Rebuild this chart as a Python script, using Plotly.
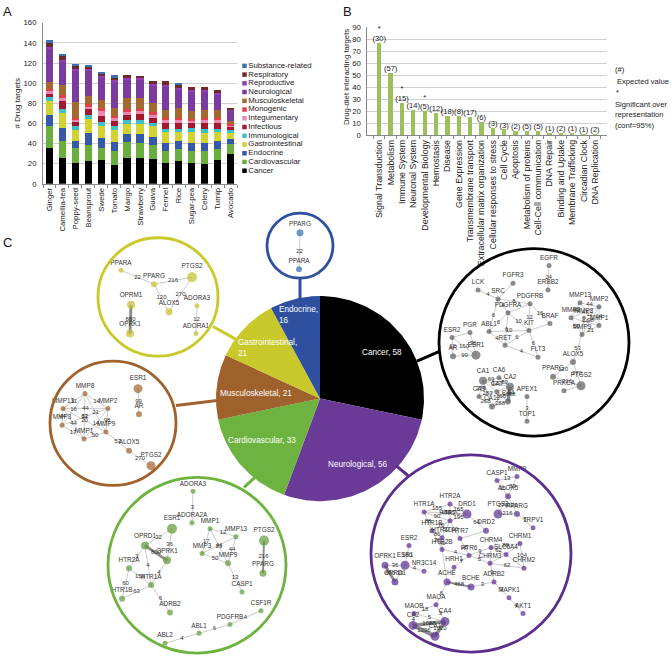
import math
import plotly.graph_objects as go

FONT = "Liberation Sans, Arial, sans-serif"

# ---------------- Panel A data ----------------
foods = ["Ginger", "Camellia-tea", "Poppy-seed", "Beansprout", "Swede", "Tomato", "Mango",
         "Strawberry", "Guava", "Fennel", "Rice", "Sugar-pea", "Celery", "Turnip", "Avocado"]
disease_classes = ["Cancer", "Cardiovascular", "Endocrine", "Gastrointestinal", "Immunological",
                   "Infectious", "Integumentary", "Monogenic", "Musculoskeletal", "Neurological",
                   "Reproductive", "Respiratory", "Substance-related"]
cancer = [36, 26, 21, 23, 24, 19, 26, 26, 25, 21, 23, 21, 20, 24, 30]
cardiovascular = [21, 17, 15, 16, 12, 14, 16, 15, 14, 12, 12, 12, 13, 11, 10]
endocrine = [11, 12, 7, 11, 10, 9, 7, 8, 8, 8, 8, 8, 8, 8, 5]
gastrointestinal = [14, 15, 10, 14, 11, 11, 10, 10, 10, 10, 8, 10, 9, 8, 5]
immunological = [4, 4, 4, 4, 4, 4, 4, 4, 3, 3, 3, 4, 4, 3, 3]
infectious = [3, 8, 4, 6, 6, 5, 5, 6, 5, 6, 6, 5, 6, 6, 3]
integumentary = [3, 3, 2, 2, 5, 3, 3, 3, 3, 3, 3, 2, 3, 3, 2]
monogenic = [2, 3, 2, 3, 3, 2, 3, 2, 3, 2, 2, 2, 2, 2, 1]
musculoskeletal = [7, 10, 16, 8, 8, 8, 11, 11, 9, 8, 10, 8, 8, 8, 3]
neurological = [34, 24, 31, 26, 23, 27, 19, 19, 18, 24, 19, 20, 19, 16, 11]
reproductive = [1, 1, 2, 1, 1, 1, 1, 1, 1, 1, 1, 1, 1, 1, 1]
respiratory = [4, 5, 3, 3, 3, 2, 3, 2, 3, 4, 4, 3, 3, 3, 1]
substance_related = [3, 1, 2, 1, 1, 3, 0, 0, 0, 0, 1, 0, 0, 0, 0]
series_A = [cancer, cardiovascular, endocrine, gastrointestinal, immunological, infectious,
            integumentary, monogenic, musculoskeletal, neurological, reproductive, respiratory,
            substance_related]
colors_A = ["#000000", "#6aae3e", "#3558a8", "#d2d230", "#3fbfc6", "#9e1a2c", "#e78ab4",
            "#e43f4a", "#a4692f", "#7b3a9e", "#9340b0", "#6b2b2b", "#3f6fb5"]
yticks_A = [0, 20, 40, 60, 80, 100, 120, 140, 160]

# ---------------- Panel B data ----------------
pathways = ["Signal Transduction", "Metabolism", "Immune System", "Neuronal System",
            "Developmental Biology", "Hemostasis", "Disease", "Gene Expression",
            "Transmembrane transport", "Extracellular matrix organization",
            "Cellular responses to stress", "Cell Cycle", "Apoptosis", "Metabolism of proteins",
            "Cell-Cell communication", "DNA Repair", "Binding and Uptake", "Membrane Trafficking",
            "Circadian Clock", "DNA Replication"]
observed = [77, 52, 27, 21, 20, 19, 16, 16, 15, 11, 6, 5, 4, 4, 4, 2, 2, 2, 1, 1]
expected = [30, 57, 15, 14, 5, 12, 18, 8, 17, 6, 3, 3, 2, 5, 5, 1, 2, 1, 1, 2]
significant = [True, False, True, False, True] + [False] * 15
yticks_B = [0, 10, 20, 30, 40, 50, 60, 70, 80, 90]

# ---------------- Panel C data ----------------
pie_labels = ["Cancer", "Neurological", "Cardiovascular", "Musculoskeletal", "Gastrointestinal", "Endocrine"]
pie_values = [58, 56, 33, 21, 21, 16]
pie_colors = ["#000000", "#6a3a97", "#6db33f", "#a0622d", "#c9c92c", "#2f4f9f"]

# networks (node layout coordinates, pixel space)
endo_nodes = ["PPARG", "PPARA"]
endo_x = [300, 299]
endo_y = [232, 269]
endo_size = [7, 6]
endo_edges = [("PPARG", "PPARA", 22)]

gi_nodes = ["PPARA", "PPARG", "PTGS2", "ALOX5", "OPRM1", "OPRK1", "ADORA3", "ADORA1"]
gi_x = [121, 154, 192, 169, 131, 130, 197, 196]
gi_y = [270, 284, 277, 312, 305, 334, 306, 334]
gi_size = [5, 6, 10, 7, 8, 8, 5, 5]
gi_edges = [("PPARA", "PPARG", 22), ("PPARG", "PTGS2", 216), ("PPARG", "ALOX5", 120),
            ("PTGS2", "ALOX5", 270), ("OPRM1", "OPRK1", 880), ("ADORA3", "ADORA1", 12)]

ms_nodes = ["MMP8", "MMP13", "MMP2", "MMP3", "MMP9", "MMP1", "ESR1", "AR", "ALOX5", "PTGS2"]
ms_x = [85, 63, 108, 62, 106, 84, 138, 139, 129, 151]
ms_y = [395, 410, 410, 427, 434, 441, 390, 416, 453, 468]
ms_size = [5, 5, 5, 5, 5, 5, 9, 6, 6, 9]
ms_edges = [("MMP8", "MMP13", 11), ("MMP8", "MMP2", 14), ("MMP8", "MMP3", 16), ("MMP8", "MMP9", 21),
            ("MMP8", "MMP1", 81), ("MMP13", "MMP2", 44), ("MMP13", "MMP3", 44), ("MMP13", "MMP9", 20),
            ("MMP13", "MMP1", 44), ("MMP2", "MMP3", 12), ("MMP2", "MMP9", 98), ("MMP2", "MMP1", 14),
            ("MMP3", "MMP1", 17), ("MMP9", "MMP1", 50), ("ESR1", "AR", 99), ("MMP9", "ALOX5", 53),
            ("ALOX5", "PTGS2", 270)]

cv_nodes = ["ADORA3", "ADORA2A", "ESR1", "OPRD1", "OPRK1", "HTR2A", "HTR1A", "HTR1B", "ADRB2",
            "MMP1", "MMP13", "MMP3", "MMP9", "PTGS2", "PPARG", "CASP1", "CSF1R", "PDGFRB", "ABL1", "ABL2"]
cv_x = [193, 192, 172, 145, 167, 129, 151, 122, 170, 210, 236, 202, 228, 264, 263, 242, 261, 230, 199, 165]
cv_y = [494, 526, 532, 549, 564, 572, 589, 603, 617, 532, 540, 557, 567, 544, 577, 596, 615, 629, 638, 648]
cv_size = [5, 5, 10, 8, 8, 6, 6, 6, 6, 5, 5, 5, 6, 10, 7, 5, 5, 5, 5, 5]
cv_edges = [("ADORA3", "ADORA2A", 3), ("ESR1", "OPRD1", 32), ("ESR1", "OPRK1", 36), ("OPRD1", "OPRK1", 800),
            ("OPRD1", "HTR2A", 3), ("OPRD1", "HTR1A", 4), ("OPRK1", "HTR1A", 4), ("HTR2A", "HTR1A", 155),
            ("HTR2A", "HTR1B", 60), ("HTR1B", "HTR1A", 63), ("HTR1A", "ADRB2", 6), ("MMP1", "MMP13", 12),
            ("MMP1", "MMP3", 17), ("MMP1", "MMP9", 21), ("MMP13", "MMP3", 44), ("MMP13", "MMP9", 44),
            ("MMP3", "MMP9", 50), ("MMP9", "CASP1", 13), ("PTGS2", "PPARG", 516), ("CSF1R", "PDGFRB", 4),
            ("PDGFRB", "ABL1", 6), ("ABL1", "ABL2", 4)]
cv_edge_text = {("PTGS2", "PPARG"): "216"}

ca_nodes = ["EGFR", "ERBB2", "FGFR3", "LCK", "SRC", "PDGFRB", "PDGFRA", "BRAF", "KIT", "ABL1", "RET",
            "FLT3", "PGR", "ESR2", "AR", "ESR1", "MMP13", "MMP2", "MMP3", "MMP8", "MMP1", "MMP9",
            "ALOX5", "PPARG", "PTGS2", "PRKCA", "CA1", "CA6", "CA2", "CA9", "CA12", "CA4", "CA7",
            "APEX1", "TOP1"]
ca_x = [549, 548, 513, 478, 498, 530, 508, 550, 529, 489, 505, 538, 470, 452, 453, 476, 580, 599,
        571, 584, 599, 582, 573, 553, 581, 564, 483, 499, 510, 479, 492, 508, 497, 527, 527]
ca_y = [265, 290, 283, 290, 299, 304, 313, 324, 331, 332, 346, 358, 333, 338, 357, 356, 303, 307,
        318, 318, 326, 335, 363, 378, 387, 392, 382, 379, 388, 398, 408, 403, 393, 398, 423]
ca_size = [5, 5, 5, 5, 5, 5, 5, 5, 5, 5, 5, 5, 5, 5, 6, 9, 5, 5, 5, 4, 5, 5, 6, 6, 9, 5,
           8, 5, 8, 5, 6, 6, 5, 5, 5]
ca_edges = [("EGFR", "ERBB2", 24), ("LCK", "SRC", 4), ("SRC", "FGFR3", None), ("SRC", "PDGFRB", 8),
            ("SRC", "PDGFRA", 4), ("SRC", "ABL1", 6), ("PDGFRA", "PDGFRB", None), ("PDGFRA", "KIT", 10),
            ("PDGFRB", "KIT", 12), ("PDGFRB", "BRAF", 16), ("PDGFRA", "ABL1", 6), ("PDGFRA", "RET", 6),
            ("ABL1", "KIT", 10), ("ABL1", "RET", 4), ("KIT", "RET", 6), ("KIT", "FLT3", 6),
            ("RET", "FLT3", 4), ("KIT", "BRAF", None), ("PGR", "ESR2", None), ("ESR2", "AR", 12),
            ("PGR", "ESR1", 36), ("ESR2", "ESR1", 160), ("AR", "ESR1", 99), ("MMP13", "MMP2", 44),
            ("MMP13", "MMP3", 44), ("MMP3", "MMP2", 47), ("MMP13", "MMP1", 12), ("MMP2", "MMP1", 14),
            ("MMP3", "MMP9", 50), ("MMP1", "MMP9", 21), ("MMP2", "MMP9", 98), ("MMP3", "MMP1", 44),
            ("MMP8", "MMP9", None), ("MMP9", "ALOX5", 53), ("ALOX5", "PPARG", 120), ("ALOX5", "PTGS2", 270),
            ("PPARG", "PTGS2", 216), ("PTGS2", "PRKCA", None), ("CA1", "CA6", 69), ("CA1", "CA2", 127),
            ("CA6", "CA2", 89), ("CA1", "CA9", 276), ("CA1", "CA12", 283), ("CA2", "CA4", 1088),
            ("CA2", "CA12", 260), ("CA9", "CA12", 268), ("CA4", "CA12", 288), ("CA1", "CA7", None),
            ("CA7", "CA4", None), ("CA9", "CA2", None), ("APEX1", "TOP1", 3)]

ne_nodes = ["CASP1", "MMP9", "ALOX5", "PTGS2", "PPARG", "TRPV1", "HTR2A", "HTR1A", "DRD1", "HTR2C",
            "HTR1B", "DRD2", "HTR1D", "HTR7", "HTR2B", "HTR6", "HRH1", "ESR2", "ESR1", "NR3C14",
            "OPRK1", "OPRD1", "ACHE", "BCHE", "ADRB2", "MAPK1", "AKT1", "CHRM1", "CHRM4", "SLC6A4",
            "CHRM2", "CHRM3", "MAOA", "MAOB", "CA2", "CA4", "CA1"]
ne_x = [497, 517, 508, 498, 517, 533, 450, 424, 467, 450, 432, 486, 442, 460, 442, 469, 454, 409,
        405, 424, 385, 395, 447, 471, 494, 509, 523, 520, 491, 506, 524, 490, 436, 414, 413, 445, 435]
ne_y = [483, 479, 499, 517, 517, 531, 507, 515, 517, 524, 534, 534, 541, 542, 553, 559, 571, 549,
        569, 575, 569, 586, 586, 591, 586, 602, 618, 547, 551, 558, 572, 567, 609, 618, 630, 626, 641]
ne_size = [5, 5, 6, 9, 6, 5, 5, 5, 9, 5, 5, 6, 5, 5, 5, 5, 5, 5, 9, 5, 7, 7, 7, 7, 5, 5, 5, 5,
           5, 5, 5, 5, 5, 5, 9, 9, 9]
ne_edges = [("CASP1", "MMP9", 13), ("CASP1", "ALOX5", 15), ("MMP9", "ALOX5", 53), ("ALOX5", "PTGS2", 270),
            ("ALOX5", "PPARG", 120), ("PTGS2", "PPARG", 216), ("PPARG", "TRPV1", 3),
            ("HTR1A", "HTR2A", 155), ("HTR1A", "DRD1", 180), ("HTR2A", "DRD1", 165), ("HTR2A", "HTR2C", 165),
            ("HTR1A", "HTR2C", 90), ("DRD1", "HTR2C", 195), ("HTR1A", "HTR1B", 88), ("HTR1B", "HTR1D", 86),
            ("HTR1B", "HTR2C", 76), ("HTR1D", "HTR2C", 50), ("HTR1D", "HTR2B", 40), ("HTR1B", "HTR2B", 36),
            ("HTR2C", "HTR7", 90), ("DRD1", "DRD2", 64), ("DRD2", "HTR7", None), ("HTR7", "HTR6", 28),
            ("HTR2B", "HTR6", 4), ("HTR6", "HRH1", 7), ("HTR6", "CHRM3", 5), ("HTR6", "CHRM4", 9),
            ("CHRM4", "CHRM1", 88), ("CHRM4", "SLC6A4", 62), ("CHRM1", "SLC6A4", None), ("CHRM1", "CHRM2", 104),
            ("CHRM3", "CHRM2", 62), ("CHRM4", "CHRM3", None), ("SLC6A4", "CHRM2", None),
            ("CHRM3", "SLC6A4", None), ("CHRM3", "ADRB2", 3), ("ESR2", "ESR1", 160), ("ESR1", "NR3C14", 4),
            ("OPRK1", "ESR1", 36), ("OPRK1", "OPRD1", 800), ("ESR1", "OPRD1", 33), ("ACHE", "BCHE", 468),
            ("BCHE", "ADRB2", 3), ("ADRB2", "MAPK1", 3), ("MAPK1", "AKT1", 4), ("ACHE", "MAOA", 6),
            ("ACHE", "HTR2B", None), ("MAOA", "MAOB", 18), ("MAOA", "CA4", 3), ("MAOB", "CA2", 4),
            ("MAOB", "CA4", 5), ("CA2", "CA4", 1088), ("CA2", "CA1", 1296), ("CA4", "CA1", 1020)]

# ---------------- layout constants (pixels) ----------------
W, H = 672, 661
PIE_CX, PIE_CY, PIE_R = 320, 400, 104

fig = go.Figure()

# ---------- Panel A ----------
for name, vals, col in zip(disease_classes, series_A, colors_A):
    fig.add_trace(go.Bar(x=foods, y=vals, name=name, marker=dict(color=col, line=dict(width=0)),
                         width=0.56, xaxis="x", yaxis="y", showlegend=False, hoverinfo="skip"))

# manual legend (compact spacing as in reference)
leg_names = disease_classes[::-1]
leg_cols = colors_A[::-1]
fig.add_trace(go.Scatter(
    x=[244.5] * len(leg_names), y=[62.7 + i * 8.86 for i in range(len(leg_names))],
    mode="markers+text", text=leg_names, textposition="middle right",
    marker=dict(symbol="square", size=4.5, color=leg_cols),
    textfont=dict(size=7.8, color="#222", family=FONT),
    xaxis="x3", yaxis="y3", showlegend=False, hoverinfo="skip"))

# ---------- Panel B ----------
fig.add_trace(go.Bar(x=pathways, y=observed, marker=dict(color="#9cc15c", line=dict(width=0)),
                     width=0.38, xaxis="x2", yaxis="y2", showlegend=False, hoverinfo="skip"))
fig.add_trace(go.Scatter(
    x=pathways, y=observed, mode="text",
    text=[("*<br>" if s else "") + f"({e})" for s, e in zip(significant, expected)],
    textposition="top center", textfont=dict(size=7.6, color="#222", family=FONT),
    xaxis="x2", yaxis="y2", showlegend=False, hoverinfo="skip", cliponaxis=False))

# ---------- Panel C: pie as filled sectors ----------
total = sum(pie_values)
start = 0.0
for lab, val, col in zip(pie_labels, pie_values, pie_colors):
    a0 = start / total * 2 * math.pi
    a1 = (start + val) / total * 2 * math.pi
    n = 80
    xs = [PIE_CX]
    ys = [PIE_CY]
    for k in range(n + 1):
        a = a0 + (a1 - a0) * k / n
        xs.append(PIE_CX + PIE_R * math.sin(a))
        ys.append(PIE_CY - PIE_R * math.cos(a))
    xs.append(PIE_CX)
    ys.append(PIE_CY)
    fig.add_trace(go.Scatter(x=xs, y=ys, mode="lines", fill="toself", fillcolor=col,
                             line=dict(width=0, color=col), xaxis="x3", yaxis="y3",
                             showlegend=False, hoverinfo="skip"))
    start += val

# pie labels
pie_text_pos = {
    "Cancer": (382, 353, "center"),
    "Neurological": (358, 467, "center"),
    "Cardiovascular": (262, 443, "center"),
    "Musculoskeletal": (256, 395, "center"),
    "Gastrointestinal": (236, 349, "left"),
    "Endocrine": (277, 315, "left"),
}
annotations = []
for lab, val in zip(pie_labels, pie_values):
    x, y, anc = pie_text_pos[lab]
    txt = f"{lab},<br>{val}" if lab in ("Gastrointestinal", "Endocrine") else f"{lab}, {val}"
    annotations.append(dict(x=x, y=y, xref="x3", yref="y3", text=txt, showarrow=False,
                            xanchor=anc, align=anc, font=dict(size=8.2, color="white", family=FONT)))

# circles and stems
circles = [  # (cx, cy, r, color, stem)
    (300, 245, 33, "#2f4f9f", (300, 278, 300, 299)),
    (158, 297, 60, "#c9c92c", (213, 327, 236, 340)),
    (113, 425, 63, "#a0622d", (176, 407, 217, 402)),
    (197, 569, 89, "#6db33f", (244, 490, 256, 479)),
    (471, 557, 100, "#5b2d8e", (396, 468, 408, 478)),
    (534, 343, 95, "#000000", (417, 362, 440, 352)),
]
shapes = []
for cx, cy, r, col, st in circles:
    shapes.append(dict(type="circle", xref="x3", yref="y3", x0=cx - r, x1=cx + r, y0=cy - r, y1=cy + r,
                       line=dict(color=col, width=2.8), fillcolor="rgba(0,0,0,0)"))
    shapes.append(dict(type="line", xref="x3", yref="y3", x0=st[0], y0=st[1], x1=st[2], y1=st[3],
                       line=dict(color=col, width=3)))


def draw_network(names, xs, ys, sizes, edges, node_color, edge_text=None):
    idx = {n: i for i, n in enumerate(names)}
    thin_x, thin_y = [], []
    lab_x, lab_y, lab_t = [], [], []
    for a, b, w in edges:
        i, j = idx[a], idx[b]
        if w is not None and w >= 300:
            fig.add_trace(go.Scatter(x=[xs[i], xs[j]], y=[ys[i], ys[j]], mode="lines",
                                     line=dict(color="#8c8c8c", width=min(0.6 + w / 380, 4.0)),
                                     xaxis="x3", yaxis="y3", showlegend=False, hoverinfo="skip"))
        else:
            thin_x += [xs[i], xs[j], None]
            thin_y += [ys[i], ys[j], None]
        if w is not None:
            lab_x.append((xs[i] + xs[j]) / 2)
            lab_y.append((ys[i] + ys[j]) / 2)
            t = str(w)
            if edge_text and (a, b) in edge_text:
                t = edge_text[(a, b)]
            lab_t.append(t)
    fig.add_trace(go.Scatter(x=thin_x, y=thin_y, mode="lines", line=dict(color="#a8a8a8", width=0.6),
                             xaxis="x3", yaxis="y3", showlegend=False, hoverinfo="skip"))
    fig.add_trace(go.Scatter(x=lab_x, y=lab_y, mode="text", text=lab_t, textposition="middle center",
                             textfont=dict(size=6.0, color="#333", family=FONT),
                             xaxis="x3", yaxis="y3", showlegend=False, hoverinfo="skip"))
    fig.add_trace(go.Scatter(x=xs, y=ys, mode="markers+text", text=names, textposition="top center",
                             marker=dict(size=sizes, color=node_color, line=dict(width=0)),
                             textfont=dict(size=6.4, color="#333", family=FONT),
                             xaxis="x3", yaxis="y3", showlegend=False, hoverinfo="skip"))


draw_network(endo_nodes, endo_x, endo_y, endo_size, endo_edges, "#2e6db4")
draw_network(gi_nodes, gi_x, gi_y, gi_size, gi_edges, "#c2c22c")
draw_network(ms_nodes, ms_x, ms_y, ms_size, ms_edges, "#a0612c")
draw_network(cv_nodes, cv_x, cv_y, cv_size, cv_edges, "#5f9a36", cv_edge_text)
draw_network(ca_nodes, ca_x, ca_y, ca_size, ca_edges, "#5c5c5c")
draw_network(ne_nodes, ne_x, ne_y, ne_size, ne_edges, "#5a2d91")

# ---------- texts: panel letters, axis titles, B notes ----------
def px(x, y, text, size, anchor="center", angle=0, color="#222", align=None):
    annotations.append(dict(x=x, y=y, xref="x3", yref="y3", text=text, showarrow=False,
                            xanchor=anchor, textangle=angle, align=align or anchor,
                            font=dict(size=size, color=color, family=FONT)))

px(1, 8, "A", 13, "left", color="#111")
px(341, 8, "B", 13, "left", color="#111")
px(1, 242, "C", 13, "left", color="#111")
px(18, 101, "# Drug targets", 8, angle=-90)
px(347, 74, "Drug-diet interacting targets", 7.8, angle=-90)
px(613, 66, "(#)", 7.6, "left")
px(615, 78.5, "Expected value", 7.6, "left")
px(614, 89.5, "*", 7.6, "left")
px(613, 101.5, "Significant over", 7.6, "left")
px(613, 112.5, "representation", 7.6, "left")
px(613, 123.5, "(conf=95%)", 7.6, "left")

# ---------------- layout ----------------
def dom_x(a, b):
    return [a / W, b / W]


def dom_y(top, bottom):
    return [1 - bottom / H, 1 - top / H]


axis_font = dict(size=7.8, color="#222", family=FONT)
fig.update_layout(
    width=W, height=H, margin=dict(l=0, r=0, t=0, b=0),
    paper_bgcolor="white", plot_bgcolor="rgba(0,0,0,0)",
    barmode="stack", showlegend=False, font=dict(family=FONT),
    xaxis=dict(domain=dom_x(43, 237), anchor="y", tickangle=-90, tickfont=axis_font,
               showline=True, linecolor="#888", linewidth=0.8, ticks="outside", tickson="boundaries",
               ticklen=3, tickcolor="#888", showgrid=False, fixedrange=True),
    yaxis=dict(domain=dom_y(19, 182.3), anchor="x", range=[0, 160], tickvals=yticks_A,
               tickfont=axis_font, showline=True, linecolor="#888", linewidth=0.8,
               gridcolor="#cfcfcf", gridwidth=0.8, zeroline=False, ticks="", ticklabelstandoff=4),
    xaxis2=dict(domain=dom_x(367.3, 607), anchor="y2", tickangle=-90,
                tickfont=dict(size=8.9, color="#222", family=FONT),
                showline=True, linecolor="#888", linewidth=0.8, ticks="outside", tickson="boundaries",
                ticklen=3, tickcolor="#888", showgrid=False),
    yaxis2=dict(domain=dom_y(23.3, 133.3), anchor="x2", range=[0, 90], tickvals=yticks_B,
                tickfont=axis_font, showline=True, linecolor="#888", linewidth=0.8,
                gridcolor="#cfcfcf", gridwidth=0.8, zeroline=False, ticks="", ticklabelstandoff=4),
    xaxis3=dict(domain=[0, 1], anchor="y3", range=[0, W], visible=False, fixedrange=True),
    yaxis3=dict(domain=[0, 1], anchor="x3", range=[H, 0], visible=False, fixedrange=True),
    shapes=shapes, annotations=annotations,
)

fig.write_html("out.html", config={"displayModeBar": False},
               post_script="document.body.style.margin='0';document.body.style.overflow='hidden';")
